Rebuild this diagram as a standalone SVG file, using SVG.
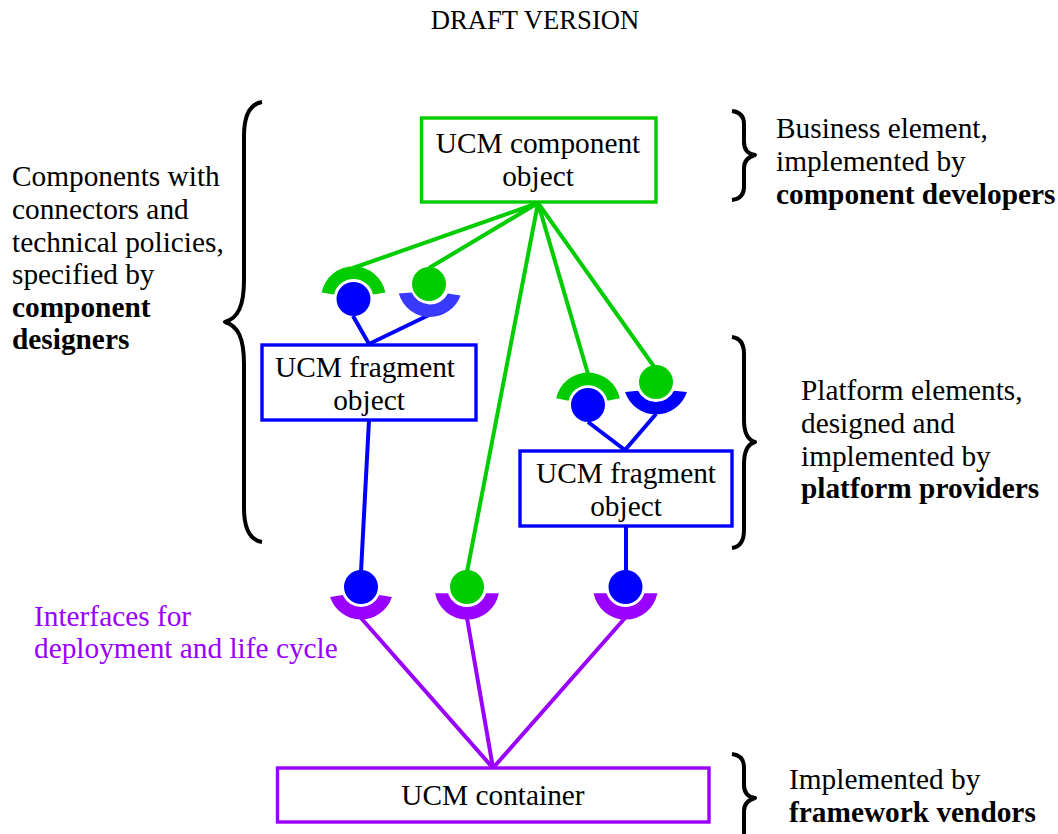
<svg xmlns="http://www.w3.org/2000/svg" width="1058" height="834" viewBox="0 0 1058 834">
<style>
text{font-family:"Liberation Serif","Times New Roman",serif;font-size:29.33px;fill:#000}
.c{text-anchor:middle}
.b{font-weight:bold}
.box{fill:#fff;stroke-width:3.4}
.brace{fill:none;stroke:#000;stroke-width:4;stroke-linejoin:round}
.line{fill:none;stroke-width:4}
.green{stroke:#00cc00}.blue{stroke:#0000ff}.purple{stroke:#9900ff}
.fg{fill:#00cc00}.fb{fill:#0000ff}.fl{fill:#3a3aff}.fp{fill:#9900ff}
</style>
<rect width="1058" height="834" fill="#fff"/>
<text id="title" x="535" y="29" class="c" style="font-size:26.67px">DRAFT VERSION</text>
<g id="connectors">
<path class="line green" d="M538 203L353 268M538 203L429 268M538 203L467 572M538 203L588 374M538 203L655 368"/>
<path class="line blue" d="M353 316L369 344L429 315M588 422L625 450L656 414M369 420L361 572M626 526L626 572"/>
<path class="line purple" d="M361 618L493 768L467 618M625 618L493 768"/>
</g>
<g id="brace-left"><path class="brace" d="M262 102C250 104 244 116 244 136V280C244 306 238 318 225 322C238 326 244 338 244 364V508C244 528 250 540 262 542"/></g>
<g id="brace-business"><path class="brace" d="M732 111C740 112 744 116 744 124V142C744 150 748 154 755 155C748 157 744 161 744 168V187C744 195 740 199 732 200"/></g>
<g id="brace-platform"><path class="brace" d="M732 337C740 338 744 344 744 354V420C744 434 748 440 755 442C748 444 744 450 744 464V530C744 541 740 547 732 548"/></g>
<g id="brace-framework"><path class="brace" d="M732 754C740 755 744 759 744 767V785C744 793 748 797 755 798C748 800 744 804 744 811V834"/></g>
<g id="component"><rect class="box green" x="421.500" y="118" width="234.500" height="84"/>
<text x="538" y="153" class="c">UCM component</text><text x="538" y="186" class="c">object</text></g>
<g id="fragment-left"><rect class="box blue" x="262" y="345" width="214" height="75"/>
<text x="365" y="377" class="c">UCM fragment</text><text x="369" y="410" class="c">object</text></g>
<g id="fragment-right"><rect class="box blue" x="520" y="451" width="212" height="75"/>
<text x="626" y="483" class="c">UCM fragment</text><text x="626" y="516" class="c">object</text></g>
<g id="container"><rect class="box purple" x="277.500" y="768" width="431.500" height="54"/>
<text x="493" y="805" class="c">UCM container</text></g>
<g id="port-1"><path class="fg" d="M321.600 292.600A32.500 32.500 0 0 1 385.400 292.600L373 294.500A20 20 0 0 0 334 294.500Z"/><circle class="fb" cx="353.500" cy="299" r="17"/></g>
<g id="port-2"><path class="fl" d="M398.800 293.500A32.500 32.500 0 0 0 460.600 295.500L447.900 293.500A20 20 0 0 1 411.700 292.500Z"/><circle class="fg" cx="429" cy="284" r="17"/></g>
<g id="port-3"><path class="fg" d="M556.200 398.300A32.500 32.500 0 0 1 619.800 398.300L607.500 400.700A20 20 0 0 0 568.500 400.700Z"/><circle class="fb" cx="588" cy="405" r="17"/></g>
<g id="port-4"><path class="fb" d="M625.100 392A32.500 32.500 0 0 0 686.900 392L674 390.700A20 20 0 0 1 638 390.700Z"/><circle class="fg" cx="656" cy="382" r="17"/></g>
<g id="port-5"><path class="fp" d="M330.100 597A32.500 32.500 0 0 0 391.900 597L379.300 595A20 20 0 0 1 342.700 595Z"/><circle class="fb" cx="361" cy="587" r="17"/></g>
<g id="port-6"><path class="fp" d="M435.100 593.300A32.500 32.500 0 0 0 498.900 593.300L486 593.300A20 20 0 0 1 448 593.300Z"/><circle class="fg" cx="467" cy="587" r="17"/></g>
<g id="port-7"><path class="fp" d="M593.600 593.300A32.500 32.500 0 0 0 657.400 593.300L644.500 593.300A20 20 0 0 1 606.500 593.300Z"/><circle class="fb" cx="625.500" cy="587" r="17"/></g>
<g id="label-designers"><text x="12" y="186">Components with</text><text x="12" y="219">connectors and</text><text x="12" y="252">technical policies,</text><text x="12" y="284">specified by</text><text x="12" y="317" class="b">component</text><text x="12" y="349" class="b">designers</text></g>
<g id="label-business"><text x="776" y="138">Business element,</text><text x="776" y="171">implemented by</text><text x="776" y="204" class="b">component developers</text></g>
<g id="label-platform"><text x="801" y="400">Platform elements,</text><text x="801" y="433">designed and</text><text x="801" y="466">implemented by</text><text x="801" y="498" class="b">platform providers</text></g>
<g id="label-framework"><text x="789" y="789">Implemented by</text><text x="789" y="822" class="b">framework vendors</text></g>
<g id="label-interfaces"><text x="34" y="626" style="fill:#9900ff">Interfaces for</text><text x="34" y="658" style="fill:#9900ff">deployment and life cycle</text></g>
</svg>
